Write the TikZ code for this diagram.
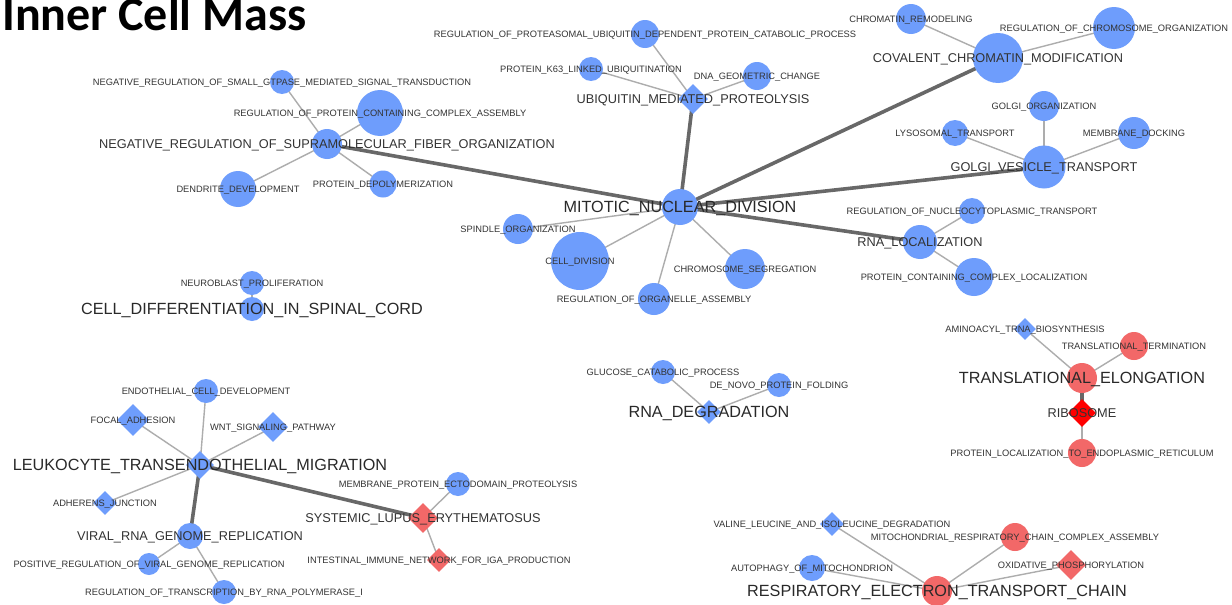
\documentclass[tikz,border=0pt]{standalone}
\usepackage{fontspec}
\setmainfont{Liberation Sans}
\newfontfamily\titlefamily{Carlito}
\usepackage{xcolor}
\usepackage{tikz}
\usetikzlibrary{shapes.geometric,backgrounds}
\definecolor{nodeBlue}{HTML}{6E9DFC}
\definecolor{nodeRed}{HTML}{F26868}
\definecolor{riboRed}{HTML}{FF0000}
\definecolor{edgeGray}{HTML}{ADADAD}
\definecolor{trunkGray}{HTML}{686868}
\definecolor{labelGray}{HTML}{333333}

\begin{document}
\begin{tikzpicture}[x=1pt,y=-1pt,
goterm/.style={circle,draw=none,fill=#1,inner sep=0pt},
keggpath/.style={diamond,aspect=1,draw=none,fill=#1,inner sep=0pt},
leafText/.style={inner sep=0pt,text=labelGray,text height=6.6pt,text depth=0pt,font=\fontsize{9.3}{11}\selectfont},
hubText/.style={inner sep=0pt,text=labelGray,text height=9.1pt,text depth=0pt,font=\fontsize{12.75}{15}\selectfont},
rootText/.style={inner sep=0pt,text=labelGray!80!black,text height=11.6pt,text depth=0pt,font=\fontsize{16.2}{19}\selectfont},
thinEdge/.style={draw=edgeGray,line width=1.4pt},
thickEdge/.style={draw=trunkGray,line width=3.6pt},
]
\useasboundingbox (0,0) rectangle (1232,605);

% title
\node[anchor=base west,inner sep=0pt,font={\titlefamily\bfseries\fontsize{48}{50}\selectfont}] (title) at (2,30) {Inner Cell Mass};

% mitotic nuclear division and its leaves
\node[goterm=nodeBlue,minimum size=36pt,label={[rootText]center:MITOTIC\_NUCLEAR\_DIVISION}] (mnd) at (680,207) {};
\node[goterm=nodeBlue,minimum size=30pt,label={[leafText]center:SPINDLE\_ORGANIZATION}] (spindle) at (518,229) {};
\node[goterm=nodeBlue,minimum size=58pt,label={[leafText]center:CELL\_DIVISION}] (celldiv) at (580,261) {};
\node[goterm=nodeBlue,minimum size=32pt,label={[leafText]center:REGULATION\_OF\_ORGANELLE\_ASSEMBLY}] (organelle) at (654,299) {};
\node[goterm=nodeBlue,minimum size=40pt,label={[leafText]center:CHROMOSOME\_SEGREGATION}] (chrseg) at (745,269) {};

% supramolecular fiber organization
\node[goterm=nodeBlue,minimum size=30pt,label={[hubText]center:NEGATIVE\_REGULATION\_OF\_SUPRAMOLECULAR\_FIBER\_ORGANIZATION}] (fiber) at (327,144) {};
\node[goterm=nodeBlue,minimum size=24pt,label={[leafText]center:NEGATIVE\_REGULATION\_OF\_SMALL\_GTPASE\_MEDIATED\_SIGNAL\_TRANSDUCTION}] (gtpase) at (282,82) {};
\node[goterm=nodeBlue,minimum size=46pt,label={[leafText]center:REGULATION\_OF\_PROTEIN\_CONTAINING\_COMPLEX\_ASSEMBLY}] (assembly) at (380,113) {};
\node[goterm=nodeBlue,minimum size=36pt,label={[leafText]center:DENDRITE\_DEVELOPMENT}] (dendrite) at (238,189) {};
\node[goterm=nodeBlue,minimum size=27pt,label={[leafText]center:PROTEIN\_DEPOLYMERIZATION}] (depoly) at (383,184) {};

% ubiquitin
\node[keggpath=nodeBlue,minimum size=30pt,label={[hubText]center:UBIQUITIN\_MEDIATED\_PROTEOLYSIS}] (ubiq) at (693,99) {};
\node[goterm=nodeBlue,minimum size=28pt,label={[leafText]center:REGULATION\_OF\_PROTEASOMAL\_UBIQUITIN\_DEPENDENT\_PROTEIN\_CATABOLIC\_PROCESS}] (proteasome) at (645,34) {};
\node[goterm=nodeBlue,minimum size=24pt,label={[leafText]center:PROTEIN\_K63\_LINKED\_UBIQUITINATION}] (kSixtyThree) at (591,69) {};
\node[goterm=nodeBlue,minimum size=28pt,label={[leafText]center:DNA\_GEOMETRIC\_CHANGE}] (dnageo) at (757,76) {};

% chromatin
\node[goterm=nodeBlue,minimum size=50pt,label={[hubText]center:COVALENT\_CHROMATIN\_MODIFICATION}] (chromatin) at (998,58) {};
\node[goterm=nodeBlue,minimum size=30pt,label={[leafText]center:CHROMATIN\_REMODELING}] (remodel) at (911,19) {};
\node[goterm=nodeBlue,minimum size=42pt,label={[leafText]center:REGULATION\_OF\_CHROMOSOME\_ORGANIZATION}] (chrorg) at (1114,28) {};

% golgi
\node[goterm=nodeBlue,minimum size=43pt,label={[hubText]center:GOLGI\_VESICLE\_TRANSPORT}] (golgi) at (1044,167) {};
\node[goterm=nodeBlue,minimum size=30pt,label={[leafText]center:GOLGI\_ORGANIZATION}] (golgiorg) at (1044,106) {};
\node[goterm=nodeBlue,minimum size=26pt,label={[leafText]center:LYSOSOMAL\_TRANSPORT}] (lyso) at (955,133) {};
\node[goterm=nodeBlue,minimum size=32pt,label={[leafText]center:MEMBRANE\_DOCKING}] (docking) at (1134,133) {};

% rna localization
\node[goterm=nodeBlue,minimum size=34pt,label={[hubText]center:RNA\_LOCALIZATION}] (rnaloc) at (920,242) {};
\node[goterm=nodeBlue,minimum size=26pt,label={[leafText]center:REGULATION\_OF\_NUCLEOCYTOPLASMIC\_TRANSPORT}] (nucleo) at (972,211) {};
\node[goterm=nodeBlue,minimum size=38pt,label={[leafText]center:PROTEIN\_CONTAINING\_COMPLEX\_LOCALIZATION}] (complexloc) at (974,277) {};

% spinal cord
\node[goterm=nodeBlue,minimum size=24pt,label={[rootText]center:CELL\_DIFFERENTIATION\_IN\_SPINAL\_CORD}] (spinal) at (252,309) {};
\node[goterm=nodeBlue,minimum size=24pt,label={[leafText]center:NEUROBLAST\_PROLIFERATION}] (neuro) at (252,283) {};

% leukocyte migration
\node[keggpath=nodeBlue,minimum size=28pt,label={[rootText]center:LEUKOCYTE\_TRANSENDOTHELIAL\_MIGRATION}] (leuko) at (200,465) {};
\node[goterm=nodeBlue,minimum size=24pt,label={[leafText]center:ENDOTHELIAL\_CELL\_DEVELOPMENT}] (endo) at (206,391) {};
\node[keggpath=nodeBlue,minimum size=32pt,label={[leafText]center:FOCAL\_ADHESION}] (focal) at (133,420) {};
\node[keggpath=nodeBlue,minimum size=30pt,label={[leafText]center:WNT\_SIGNALING\_PATHWAY}] (wnt) at (273,427) {};
\node[keggpath=nodeBlue,minimum size=24pt,label={[leafText]center:ADHERENS\_JUNCTION}] (adherens) at (105,503) {};
\node[goterm=nodeBlue,minimum size=26pt,label={[hubText]center:VIRAL\_RNA\_GENOME\_REPLICATION}] (viral) at (190,536) {};
\node[goterm=nodeBlue,minimum size=22pt,label={[leafText]center:POSITIVE\_REGULATION\_OF\_VIRAL\_GENOME\_REPLICATION}] (posviral) at (149,564) {};
\node[goterm=nodeBlue,minimum size=24pt,label={[leafText]center:REGULATION\_OF\_TRANSCRIPTION\_BY\_RNA\_POLYMERASE\_I}] (polI) at (224,592) {};

% lupus
\node[keggpath=nodeRed,minimum size=30pt,label={[hubText]center:SYSTEMIC\_LUPUS\_ERYTHEMATOSUS}] (lupus) at (423,518) {};
\node[goterm=nodeBlue,minimum size=24pt,label={[leafText]center:MEMBRANE\_PROTEIN\_ECTODOMAIN\_PROTEOLYSIS}] (ectodomain) at (458,484) {};
\node[keggpath=nodeRed,minimum size=24pt,label={[leafText]center:INTESTINAL\_IMMUNE\_NETWORK\_FOR\_IGA\_PRODUCTION}] (iga) at (439,560) {};

% rna degradation
\node[keggpath=nodeBlue,minimum size=24pt,label={[rootText]center:RNA\_DEGRADATION}] (rnadeg) at (709,412) {};
\node[goterm=nodeBlue,minimum size=24pt,label={[leafText]center:GLUCOSE\_CATABOLIC\_PROCESS}] (glucose) at (663,372) {};
\node[goterm=nodeBlue,minimum size=24pt,label={[leafText]center:DE\_NOVO\_PROTEIN\_FOLDING}] (denovo) at (779,385) {};

% translation
\node[goterm=nodeRed,minimum size=30pt,label={[rootText]center:TRANSLATIONAL\_ELONGATION}] (elong) at (1082,378) {};
\node[keggpath=nodeBlue,minimum size=22pt,label={[leafText]center:AMINOACYL\_TRNA\_BIOSYNTHESIS}] (aminoacyl) at (1025,329) {};
\node[goterm=nodeRed,minimum size=28pt,label={[leafText]center:TRANSLATIONAL\_TERMINATION}] (termination) at (1134,346) {};
\node[keggpath=riboRed,minimum size=28pt,label={[hubText]center:RIBOSOME}] (ribosome) at (1082,413) {};
\node[goterm=nodeRed,minimum size=28pt,label={[leafText]center:PROTEIN\_LOCALIZATION\_TO\_ENDOPLASMIC\_RETICULUM}] (er) at (1082,453) {};

% respiratory chain
\node[goterm=nodeRed,minimum size=30pt,label={[rootText]center:RESPIRATORY\_ELECTRON\_TRANSPORT\_CHAIN}] (resp) at (937,591) {};
\node[keggpath=nodeBlue,minimum size=24pt,label={[leafText]center:VALINE\_LEUCINE\_AND\_ISOLEUCINE\_DEGRADATION}] (valine) at (832,524) {};
\node[goterm=nodeRed,minimum size=28pt,label={[leafText]center:MITOCHONDRIAL\_RESPIRATORY\_CHAIN\_COMPLEX\_ASSEMBLY}] (complexI) at (1015,537) {};
\node[goterm=nodeBlue,minimum size=26pt,label={[leafText]center:AUTOPHAGY\_OF\_MITOCHONDRION}] (autophagy) at (812,568) {};
\node[keggpath=nodeRed,minimum size=30pt,label={[leafText]center:OXIDATIVE\_PHOSPHORYLATION}] (oxphos) at (1071,565) {};

\begin{scope}[on background layer]
\fill[white] (0,0) rectangle (1232,605);
% thick links
\foreach \hub in {fiber,ubiq,chromatin,golgi,rnaloc}
  \draw[thickEdge] (mnd.center) -- (\hub.center);
\draw[thickEdge] (leuko.center) -- (viral.center);
\draw[thickEdge] (leuko.center) -- (lupus.center);
\draw[thickEdge] (elong.center) -- (ribosome.center);
% thin links
\foreach \leaf in {spindle,celldiv,organelle,chrseg}
  \draw[thinEdge] (mnd.center) -- (\leaf.center);
\foreach \leaf in {gtpase,assembly,dendrite,depoly}
  \draw[thinEdge] (fiber.center) -- (\leaf.center);
\foreach \leaf in {proteasome,kSixtyThree,dnageo}
  \draw[thinEdge] (ubiq.center) -- (\leaf.center);
\foreach \leaf in {remodel,chrorg}
  \draw[thinEdge] (chromatin.center) -- (\leaf.center);
\foreach \leaf in {golgiorg,lyso,docking}
  \draw[thinEdge] (golgi.center) -- (\leaf.center);
\foreach \leaf in {nucleo,complexloc}
  \draw[thinEdge] (rnaloc.center) -- (\leaf.center);
\draw[thinEdge] (spinal.center) -- (neuro.center);
\foreach \leaf in {endo,focal,wnt,adherens}
  \draw[thinEdge] (leuko.center) -- (\leaf.center);
\foreach \leaf in {posviral,polI}
  \draw[thinEdge] (viral.center) -- (\leaf.center);
\foreach \leaf in {ectodomain,iga}
  \draw[thinEdge] (lupus.center) -- (\leaf.center);
\foreach \leaf in {glucose,denovo}
  \draw[thinEdge] (rnadeg.center) -- (\leaf.center);
\foreach \leaf in {aminoacyl,termination}
  \draw[thinEdge] (elong.center) -- (\leaf.center);
\draw[thinEdge] (ribosome.center) -- (er.center);
\foreach \leaf in {valine,complexI,autophagy,oxphos}
  \draw[thinEdge] (resp.center) -- (\leaf.center);
\end{scope}
\end{tikzpicture}
\end{document}
